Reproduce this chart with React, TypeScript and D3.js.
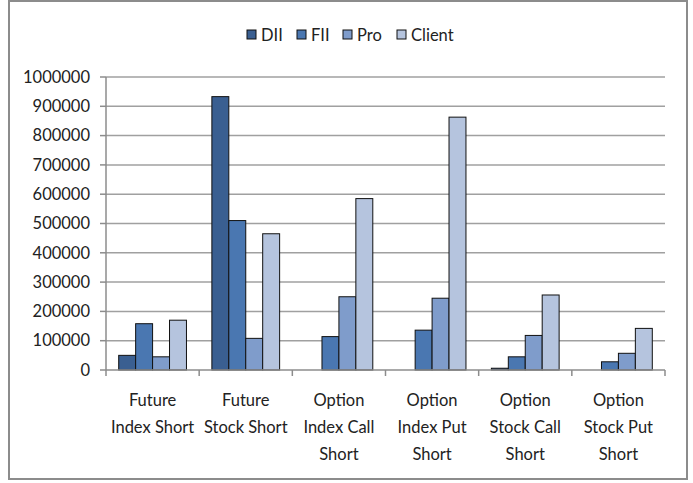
import React from 'react';
import * as d3 from 'd3';

const categories = [
  'Future Index Short',
  'Future Stock Short',
  'Option Index Call Short',
  'Option Index Put Short',
  'Option Stock Call Short',
  'Option Stock Put Short',
];
const categoryLines = [
  ['Future', 'Index Short'],
  ['Future', 'Stock Short'],
  ['Option', 'Index Call', 'Short'],
  ['Option', 'Index Put', 'Short'],
  ['Option', 'Stock Call', 'Short'],
  ['Option', 'Stock Put', 'Short'],
];
const seriesNames = ['DII', 'FII', 'Pro', 'Client'];
const dii = [50000, 933000, 0, 0, 6000, 0];
const fii = [158000, 510000, 114000, 136000, 45000, 28000];
const pro = [45000, 108000, 250000, 245000, 118000, 57000];
const client = [170000, 465000, 585000, 863000, 256000, 142000];
const yTicks = [0, 100000, 200000, 300000, 400000, 500000, 600000, 700000, 800000, 900000, 1000000];
const colors = ['#3a5f91', '#4a77b1', '#7f9ccb', '#b5c4de'];

const seriesValues = [dii, fii, pro, client];
const font = 'Lato, "Open Sans", sans-serif';

export default function App() {
  const margin = { top: 77, left: 106, right: 28, bottom: 113 };
  const width = 693;
  const height = 483;

  const x = d3.scaleBand<string>()
    .domain(categories)
    .range([margin.left, width - margin.right])
    .padding(0);
  const inner = d3.scaleBand<string>()
    .domain(seriesNames)
    .range([0, x.bandwidth()])
    .paddingInner(0)
    .paddingOuter(0.75);
  const y = d3.scaleLinear()
    .domain([0, 1000000])
    .range([height - margin.bottom, margin.top]);

  const legendX = [247, 297, 343, 397];

  return (
    <svg width={width} height={height} style={{ position: 'absolute', left: 0, top: 0 }}
      fontFamily={font}>
      <rect x={0} y={0} width={width} height={height} fill="#fff" />
      <rect x={9} y={1} width={678} height={478} fill="#fff" stroke="#8c8c8c" strokeWidth={2} />

      {/* legend */}
      {seriesNames.map((s, i) => (
        <g key={s}>
          <rect x={legendX[i]} y={30} width={9} height={9} fill={colors[i]} stroke="#111" strokeWidth={1} />
          <text x={legendX[i] + 14} y={41} fontSize={16.5} fill="#222">{s}</text>
        </g>
      ))}

      {/* gridlines */}
      {yTicks.filter(t => t > 0).map(t => (
        <line key={t} x1={margin.left} x2={width - margin.right} y1={y(t)} y2={y(t)}
          stroke="#a0a0a0" strokeWidth={1.5} />
      ))}

      {/* y axis */}
      <line x1={margin.left} x2={margin.left} y1={y(1000000)} y2={y(0)} stroke="#8c8c8c" strokeWidth={1.5} />
      {yTicks.map(t => (
        <g key={t}>
          <line x1={margin.left - 6} x2={margin.left} y1={y(t)} y2={y(t)} stroke="#8c8c8c" strokeWidth={1.5} />
          <text x={90} y={y(t)} dy="0.35em" textAnchor="end" fontSize={16.5} fill="#222">{t}</text>
        </g>
      ))}

      {/* bars */}
      {categories.map((c, ci) => (
        <g key={c} transform={`translate(${x(c)},0)`}>
          {seriesNames.map((s, si) => {
            const v = seriesValues[si][ci];
            if (!v) return null;
            return (
              <rect key={s} x={inner(s)} y={y(v)} width={inner.bandwidth()} height={y(0) - y(v)}
                fill={colors[si]} stroke="#111" strokeWidth={1} />
            );
          })}
        </g>
      ))}

      {/* x axis */}
      <line x1={margin.left} x2={width - margin.right} y1={y(0)} y2={y(0)} stroke="#8c8c8c" strokeWidth={1.5} />
      {[...categories.map(c => x(c) as number), width - margin.right].map((px, i) => (
        <line key={i} x1={px} x2={px} y1={y(0)} y2={y(0) + 6} stroke="#8c8c8c" strokeWidth={1.5} />
      ))}
      {categories.map((c, ci) => (
        <text key={c} x={(x(c) as number) + x.bandwidth() / 2} y={406} textAnchor="middle" fontSize={16.5} fill="#222">
          {categoryLines[ci].map((l, li) => (
            <tspan key={li} x={(x(c) as number) + x.bandwidth() / 2} y={406 + li * 27}>{l}</tspan>
          ))}
        </text>
      ))}
    </svg>
  );
}
